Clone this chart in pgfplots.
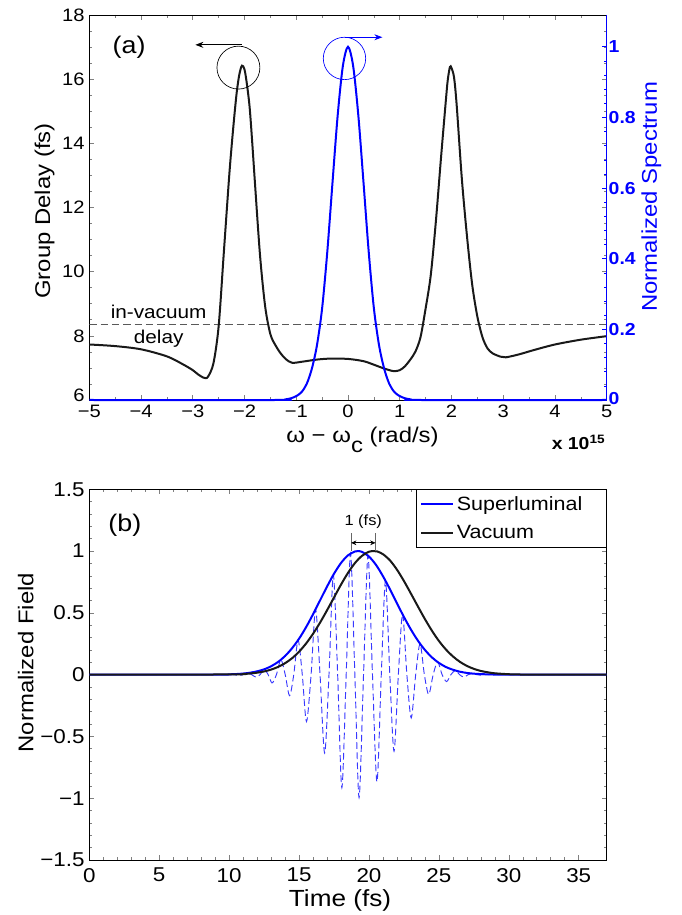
\documentclass[border=0pt]{standalone}
\usepackage{fontspec}
\setmainfont{Liberation Sans}[FakeStretch=1.12]
\usepackage{pgfplots}
\pgfplotsset{compat=1.18}
\usetikzlibrary{arrows.meta}
\definecolor{mblue}{rgb}{0,0,1}
\definecolor{mblack}{rgb}{0.1,0.1,0.1}
\definecolor{dblue}{rgb}{0.22,0.22,1}
\newcommand{\fsz}[1]{\fontsize{#1}{#1}\selectfont}
\pgfplotsset{
  mstyle/.style={
    scale only axis, width=388.05pt,
    tick align=inside,
    major tick length=3.5pt, minor tick length=2pt,
    every tick/.append style={line width=0.45pt},
    axis line style={line width=0.6pt},
    /pgf/number format/assume math mode=true,
    clip mode=individual,
  }
}
\begin{document}
\begin{tikzpicture}
\useasboundingbox (0,0) rectangle (511.5pt,686.25pt);
% ---------------- panel (a), left axis ----------------
\begin{axis}[mstyle,
  at={(66.98pt,386.25pt)}, anchor=south west, height=288.75pt,
  xmin=-5, xmax=5, ymin=6, ymax=18,
  xtick={-5,-4,-3,-2,-1,0,1,2,3,4,5},
  xticklabels={−5,−4,−3,−2,−1,0,1,2,3,4,5},
  ytick={6,8,10,12,14,16,18},
  yticklabels={\raisebox{-1pt}[0pt][0pt]{6},8,10,12,14,16,18},
  minor x tick num=1, minor y tick num=3,
  ticklabel style={font=\fsz{13.5}},
  xticklabel style={yshift=-2pt, inner ysep=1.5pt},
  xlabel={ω − ω\raisebox{-0.45em}{c} (rad/s)},
  xlabel style={at={(axis description cs:0.5,0)}, anchor=base, yshift=-32pt, xshift=10.9pt, font=\fsz{16}, inner sep=0pt},
  ylabel={Group Delay (fs)},
  every axis y label/.style={at={([xshift=-33.5pt,yshift=-2.6pt]axis description cs:0,0.5)}, rotate=90, anchor=center, font=\fsz{16}},
]
\addplot[color={rgb,1:red,0.35;green,0.35;blue,0.35}, line width=0.8pt, dash pattern=on 5.5pt off 3pt] coordinates {(-5,8.35) (5,8.35)};
\addplot[mblack, line width=1.5pt, smooth] coordinates {
(-5,7.73) (-4.5,7.68) (-4,7.58) (-3.5,7.36) (-3.2,7.12) (-3.0,6.93) (-2.9,6.8) (-2.8,6.7) (-2.75,6.68) (-2.7,6.74) (-2.6,7.15) (-2.5,8.3) (-2.4,10.6) (-2.3,12.9) (-2.25,13.9) (-2.2,14.8) (-2.15,15.6) (-2.1,16.15) (-2.05,16.42) (-2.0,16.3) (-1.95,15.8) (-1.9,15.1) (-1.85,14.0) (-1.8,12.8) (-1.7,10.5) (-1.6,8.9) (-1.5,8.05) (-1.4,7.7) (-1.3,7.45) (-1.2,7.27) (-1.08,7.16) (-0.9,7.19) (-0.6,7.26) (-0.34,7.29) (0,7.28) (0.3,7.21) (0.5,7.1) (0.7,6.98) (0.88,6.9) (1.0,6.93) (1.1,7.05) (1.2,7.25) (1.3,7.5) (1.4,7.95) (1.5,8.85) (1.6,9.9) (1.7,11.6) (1.8,13.6) (1.9,15.5) (1.93,16.0) (1.97,16.38) (2.0,16.35) (2.05,16.05) (2.1,15.2) (2.2,12.9) (2.3,11.1) (2.4,9.6) (2.5,8.6) (2.6,7.95) (2.7,7.6) (2.8,7.45) (2.95,7.35) (3.05,7.33) (3.3,7.42) (3.6,7.56) (4.0,7.73) (4.5,7.88) (5,7.99)};
\node[anchor=base, font=\fsz{18}] at (axis cs:-4.23,16.8) {(a)};
\node[anchor=base, font=\fsz{13.9}] at (axis cs:-3.66,8.55) {in-vacuum};
\node[anchor=base, font=\fsz{13.9}] at (axis cs:-3.66,7.77) {delay};
\draw[black, line width=0.5pt] (axis cs:-2.118,16.36) circle[radius=16.1pt];
\draw[black, line width=0.6pt, -{Stealth[length=6pt,width=4.5pt]}] (axis cs:-2.05,17.07) -- (axis cs:-2.95,17.07);
\node[anchor=base east, font=\fsz{13}\bfseries] at (rel axis cs:1,0) [xshift=2.5pt, yshift=-37pt] {x 10\textsuperscript{15}};
\end{axis}
% ---------------- panel (a), right axis ----------------
\begin{axis}[mstyle,
  at={(66.98pt,386.25pt)}, anchor=south west, height=288.75pt,
  xmin=-5, xmax=5, ymin=0, ymax=1.09,
  axis y line*=right, axis x line=none,
  ytick={0,0.2,0.4,0.6,0.8,1},
  yticklabels={\raisebox{3pt}{0},0.2,0.4,0.6,0.8,1},
  minor y tick num=4,
  y axis line style={mblue, line width=0.6pt},
  ytick style={mblue}, minor y tick style={mblue},
  yticklabel style={mblue, font=\fsz{13}\bfseries, xshift=-2pt},
  ylabel={Normalized Spectrum},
  every axis y label/.style={at={([xshift=33.5pt,yshift=8pt]axis description cs:1,0.5)}, rotate=90, anchor=center, font=\fsz{16}, mblue},
  clip=false,
]
\addplot[mblue, line width=1.5pt, smooth] coordinates {
(-5,0) (-1.4,0) (-1.2,0.002) (-1.1,0.005) (-1.0,0.011) (-0.9,0.022) (-0.8,0.045) (-0.7,0.088) (-0.6,0.155) (-0.5,0.26) (-0.4,0.42) (-0.3,0.615) (-0.2,0.805) (-0.1,0.945) (0,1) (0.1,0.945) (0.2,0.805) (0.3,0.615) (0.4,0.42) (0.5,0.26) (0.6,0.155) (0.7,0.088) (0.8,0.045) (0.9,0.022) (1.0,0.011) (1.1,0.005) (1.2,0.002) (1.4,0) (5,0)};
\draw[mblue, line width=0.5pt] (axis cs:-0.068,0.967) circle[radius=15.9pt];
\draw[mblue, line width=0.6pt, -{Stealth[length=6pt,width=4.5pt]}] (axis cs:-0.055,1.027) -- (axis cs:0.664,1.027);
\end{axis}
% ---------------- panel (b) ----------------
\begin{axis}[mstyle,
  at={(66.98pt,41.25pt)}, anchor=south west, height=278pt,
  xmin=0, xmax=37, ymin=-1.5, ymax=1.5,
  xtick={0,5,10,15,20,25,30,35},
  ytick={-1.5,-1,-0.5,0,0.5,1,1.5},
  yticklabels={−1.5,−1,−0.5,0,0.5,1,1.5},
  minor x tick num=4, minor y tick num=4,
  ticklabel style={font=\fsz{15}},
  xticklabel style={yshift=-2.5pt},
  xlabel={Time (fs)},
  xlabel style={at={(axis description cs:0.5,0)}, anchor=base, yshift=-35pt, xshift=-6pt, font=\fsz{17.5}},
  ylabel={Normalized Field},
  every axis y label/.style={at={([xshift=-47.6pt,yshift=9pt]axis description cs:0,0.5)}, rotate=90, anchor=center, font=\fsz{16}},
  legend style={at={(rel axis cs:1,1)}, anchor=north east, draw=black, line width=0.6pt, font=\fsz{14.4}, inner xsep=3pt, inner ysep=3pt, row sep=6pt, cells={anchor=west}},
  legend image code/.code={\draw[#1, line width=1.3pt] (-6pt,0pt) -- (18pt,0pt);},
]
\addplot[dblue, line width=0.7pt, dash pattern=on 5pt off 2.6pt, smooth, forget plot] coordinates {
(0,0) (9.5,0) (9.76,0) (10.07,0.003) (10.38,0) (10.69,-0.006) (11.0,0) (11.3,0.013) (11.61,0) (11.92,-0.02) (12.21,0) (12.5,0.043) (12.79,0) (13.07,-0.067) (13.38,0) (13.7,0.121) (14.01,0) (14.32,-0.17) (14.62,0) (14.93,0.28) (15.23,0) (15.53,-0.38) (15.86,0) (16.18,0.529) (16.5,0) (16.83,-0.635) (17.14,0) (17.45,0.807) (17.76,0) (18.06,-0.915) (18.37,0) (18.68,0.981) (18.99,0) (19.29,-0.995) (19.61,0) (19.93,0.963) (20.25,0) (20.57,-0.867) (20.88,0) (21.18,0.76) (21.49,0) (21.79,-0.62) (22.1,0) (22.4,0.489) (22.71,0) (23.02,-0.35) (23.34,0) (23.65,0.251) (23.96,0) (24.27,-0.16) (24.59,0) (24.91,0.103) (25.23,0) (25.55,-0.056) (25.86,0) (26.17,0.034) (26.48,0) (26.78,-0.02) (27.09,0) (27.4,0.009) (27.7,0) (28.0,-0.004) (28.3,0) (37,0)};
\addplot[mblue, line width=1.5pt, smooth] coordinates {
(0,0) (9,0) (10,0.0027) (10.5,0.005) (11,0.009) (11.5,0.016) (12,0.027) (12.5,0.043) (13,0.068) (13.5,0.103) (14,0.151) (14.5,0.214) (15,0.291) (15.5,0.384) (16,0.489) (16.5,0.601) (17,0.713) (17.5,0.817) (18,0.904) (18.5,0.966) (19,0.997) (19.2,1) (19.5,0.994) (20,0.956) (20.5,0.889) (21,0.797) (21.5,0.691) (22,0.578) (22.5,0.467) (23,0.365) (23.5,0.275) (24,0.2) (24.5,0.14) (25,0.095) (25.5,0.062) (26,0.04) (26.5,0.024) (27,0.014) (27.5,0.008) (28,0.0045) (29,0.001) (30,0) (37,0)};
\addlegendentry{Superluminal\kern13pt}
\addplot[mblack, line width=1.5pt, smooth] coordinates {
(0,0) (10,0.0017) (11,0.0056) (11.5,0.0097) (12,0.016) (12.5,0.026) (13,0.041) (13.5,0.063) (14,0.093) (14.5,0.133) (15,0.186) (15.5,0.252) (16,0.331) (16.5,0.421) (17,0.521) (17.5,0.625) (18,0.729) (18.5,0.824) (19,0.904) (19.5,0.962) (20,0.995) (20.35,1) (20.6,0.997) (21,0.975) (21.5,0.925) (22,0.85) (22.5,0.758) (23,0.656) (23.5,0.552) (24,0.45) (24.5,0.356) (25,0.273) (25.5,0.204) (26,0.148) (26.5,0.104) (27,0.071) (27.5,0.047) (28,0.03) (28.5,0.019) (29,0.011) (30,0.0036) (31,0.001) (32,0) (37,0)};
\addlegendentry{Vacuum}
\node[anchor=base, font=\fsz{18}] at (axis cs:2.54,1.16) {(b)};
\node[anchor=base, font=\fsz{11}] at (axis cs:19.59,1.21) {1 (fs)};
\draw[color={rgb,1:red,0.4;green,0.4;blue,0.4}, line width=0.5pt] (axis cs:18.72,1.0) -- (axis cs:18.72,1.145);
\draw[color={rgb,1:red,0.4;green,0.4;blue,0.4}, line width=0.5pt] (axis cs:20.47,1.0) -- (axis cs:20.47,1.145);
\draw[black, line width=0.5pt, {Stealth[length=4pt,width=3.5pt]}-{Stealth[length=4pt,width=3.5pt]}] (axis cs:18.72,1.067) -- (axis cs:20.47,1.067);
\end{axis}
\end{tikzpicture}
\end{document}
